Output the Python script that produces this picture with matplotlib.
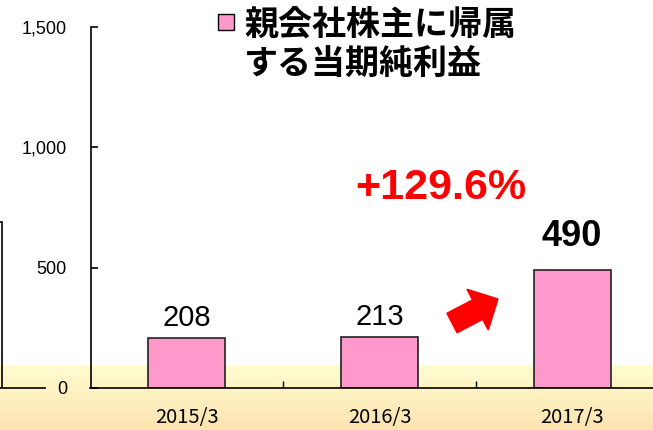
import numpy as np
import matplotlib
matplotlib.use('Agg')
import matplotlib.pyplot as plt
from matplotlib.patches import FancyArrow, Rectangle
from matplotlib.transforms import IdentityTransform

years = ['2015/3', '2016/3', '2017/3']
profit = [208, 213, 490]
value_labels = ['208', '213', '490']
growth_label = '+129.6%'
legend_lines = ['親会社株主に帰属', 'する当期純利益']
left_value = 690   # bar of the neighbouring chart, cut off at the left edge
yticks = [0, 500, 1000, 1500]

W, H = 653, 430
fig = plt.figure(figsize=(W / 100, H / 100), dpi=100)
fig.patch.set_facecolor('white')

def px(x0, y0, x1, y1):
    # image pixel box (top-left origin) -> figure fraction rect
    return [x0 / W, 1 - y1 / H, (x1 - x0) / W, (y1 - y0) / H]

# yellow band at the bottom of the slide
bg = fig.add_axes(px(0, 365, W, H), zorder=-5)
top = np.array([1.0, 0.992, 0.82])
bot = np.array([0.99, 0.89, 0.69])
t = np.linspace(0, 1, 100)[:, None]
grad = (top * (1 - t) + bot * t)[:, None, :]
bg.imshow(grad, aspect='auto', extent=[0, 1, 0, 1])
bg.axis('off')

# neighbouring chart on the left (only its edge is visible)
axl = fig.add_axes(px(-100, 27, 45, 388))
axl.set_facecolor('none')
axl.bar([0.5], [left_value], width=0.405, facecolor='none', edgecolor='black', linewidth=1.2)
axl.set_xlim(0, 1)
axl.set_ylim(0, 1500)
for s in ['top', 'right', 'left']:
    axl.spines[s].set_visible(False)
axl.spines['bottom'].set_linewidth(1.2)
axl.set_xticks([])
axl.set_yticks([])

# main chart
ax = fig.add_axes(px(90.5, 27, 668.5, 388))
ax.set_facecolor('none')
x = np.arange(len(years))
ax.bar(x, profit, width=0.4, color='#FF99CC', edgecolor='#222222', linewidth=1.2)
ax.set_xlim(-0.5, 2.5)
ax.set_ylim(0, 1500)
ax.spines['top'].set_visible(False)
ax.spines['right'].set_visible(False)
ax.spines['left'].set_linewidth(1.2)
ax.spines['bottom'].set_linewidth(1.2)

ax.set_yticks(yticks)
ax.set_yticklabels([f'{v:,}' for v in yticks], fontfamily='Liberation Sans', fontsize=13)
ax.tick_params(axis='y', direction='in', length=5, width=1.2, pad=17)

ax.set_xticks(x)
ax.set_xticklabels(years, fontfamily='Noto Sans CJK JP', fontsize=14.5)
ax.set_xticks(x[:-1] + 0.5, minor=True)
ax.tick_params(axis='x', which='major', length=0, pad=13.5)
ax.tick_params(axis='x', which='minor', direction='in', length=5, width=1.0)

for i, (v, lab) in enumerate(zip(profit, value_labels)):
    if i == 2:
        ax.annotate(lab, (i, v), xytext=(0, 24), textcoords='offset points',
                    ha='center', va='center', fontsize=26, fontweight='bold',
                    fontfamily='Liberation Sans')
    else:
        ax.annotate(lab, (i, v), xytext=(0, 14.5), textcoords='offset points',
                    ha='center', va='center', fontsize=21, fontfamily='Liberation Sans')

ax.text(1.32, 830, growth_label, ha='center', va='center', color='red',
        fontsize=31, fontweight='bold', fontfamily='Liberation Sans')

# red arrow
fig.add_artist(FancyArrow(452, H - 323, 46, 24, width=22, head_width=46, head_length=23,
                          length_includes_head=True, color='red', transform=IdentityTransform()))

# legend
fig.add_artist(Rectangle((218, H - 30), 16, 16, facecolor='#FF99CC', edgecolor='black',
                         linewidth=1.0, transform=IdentityTransform()))
fig.text(244 / W, 1 - 25 / H, legend_lines[0], ha='left', va='center', fontsize=24.5,
         fontweight='bold', fontfamily='Noto Sans CJK JP')
fig.text(244 / W, 1 - 63 / H, legend_lines[1], ha='left', va='center', fontsize=24.5,
         fontweight='bold', fontfamily='Noto Sans CJK JP')

fig.savefig('out.png', dpi=100)
